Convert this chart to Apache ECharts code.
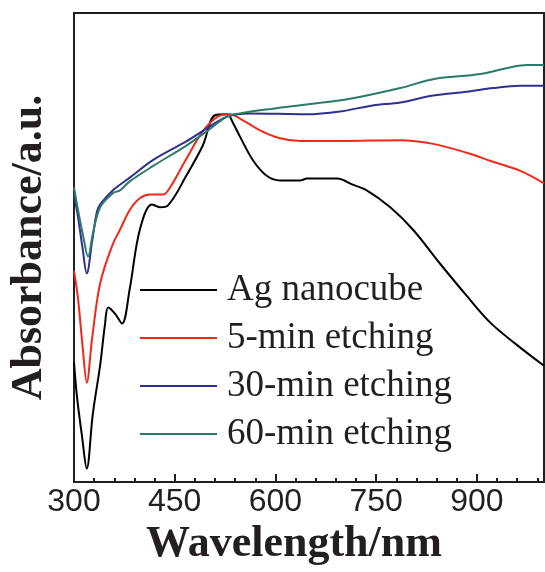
<!DOCTYPE html>
<html>
<head>
<meta charset="utf-8">
<script src="https://cdn.jsdelivr.net/npm/echarts@6/dist/echarts.min.js"></script>
<style>
  html, body { margin: 0; padding: 0; background: #fff; }
  #chart { width: 545px; height: 572px; }
</style>
</head>
<body>
<div id="chart"></div>
<script>
// UV-vis absorbance spectra (arbitrary units, 0–1 scale)
const seriesNames = ['Ag nanocube', '5-min etching', '30-min etching', '60-min etching'];
const seriesColors = ['#000000', '#f2281b', '#2e3192', '#2b7a6c'];

const agWl  = [300, 304.5, 312, 319, 328, 339, 346, 351, 361, 371.5, 383, 398, 416, 428, 440, 468, 492, 510, 528, 537, 547, 567, 587, 607, 637, 647, 692, 715, 736, 771, 805, 845, 885, 920, 960, 1000];
const agAbs = [0.256, 0.181, 0.097, 0.029, 0.145, 0.250, 0.334, 0.372, 0.359, 0.338, 0.412, 0.538, 0.592, 0.586, 0.590, 0.655, 0.718, 0.782, 0.784, 0.765, 0.737, 0.685, 0.653, 0.643, 0.643, 0.647, 0.647, 0.634, 0.622, 0.586, 0.538, 0.466, 0.397, 0.340, 0.292, 0.248];

const e5Wl  = [300, 306, 313, 319, 327, 339, 358, 368.5, 383, 398, 413, 432.5, 443, 468, 492, 514, 532, 547, 577, 607, 637, 696, 786, 835, 885, 924, 964, 1000];
const e5Abs = [0.450, 0.391, 0.286, 0.212, 0.307, 0.424, 0.508, 0.538, 0.580, 0.605, 0.613, 0.613, 0.628, 0.691, 0.748, 0.779, 0.784, 0.775, 0.750, 0.733, 0.727, 0.727, 0.729, 0.721, 0.702, 0.683, 0.664, 0.637];

const e30Wl  = [300, 306, 313, 319, 327, 334, 339, 358, 368.5, 383, 418, 468, 498, 528, 562, 647, 696, 745, 786, 835, 885, 924, 964, 1000];
const e30Abs = [0.613, 0.565, 0.496, 0.445, 0.513, 0.576, 0.592, 0.622, 0.634, 0.649, 0.687, 0.727, 0.754, 0.779, 0.786, 0.784, 0.790, 0.803, 0.809, 0.824, 0.832, 0.840, 0.845, 0.845];

const e60Wl  = [300, 306, 313, 321, 328, 339, 358, 368.5, 383, 418, 468, 498, 528, 547, 596, 647, 711, 786, 835, 905, 949, 975, 1000];
const e60Abs = [0.628, 0.580, 0.529, 0.481, 0.529, 0.586, 0.616, 0.622, 0.641, 0.674, 0.718, 0.748, 0.779, 0.786, 0.796, 0.805, 0.817, 0.840, 0.859, 0.870, 0.884, 0.889, 0.889];

const xTickStep = 150;
const xMinorStep = 30;

function pairs(xs, ys) { return xs.map((x, i) => [x, ys[i]]); }
const seriesData = [pairs(agWl, agAbs), pairs(e5Wl, e5Abs), pairs(e30Wl, e30Abs), pairs(e60Wl, e60Abs)];

const ink = '#231f20';
const serif = '"Liberation Serif", "Times New Roman", serif';
const sans = '"Liberation Sans", Arial, sans-serif';

const chart = echarts.init(document.getElementById('chart'), null, { renderer: 'canvas' });
chart.setOption({
  animation: false,
  backgroundColor: '#fff',
  grid: {
    left: 74, right: 1, top: 13, bottom: 83,
    show: true, borderColor: ink, borderWidth: 2, backgroundColor: 'transparent'
  },
  legend: {
    orient: 'vertical',
    left: 140, top: 271,
    padding: 0,
    icon: 'rect',
    itemWidth: 77, itemHeight: 2,
    itemGap: 10,
    data: seriesNames,
    textStyle: { fontFamily: serif, fontSize: 37, lineHeight: 38, color: ink, padding: [0, 0, 0, 5] }
  },
  xAxis: [{
    type: 'value',
    min: 300, max: 1000, interval: xTickStep,
    name: 'Wavelength/nm',
    nameLocation: 'middle',
    nameGap: 38,
    nameTextStyle: { fontFamily: serif, fontWeight: 'bold', fontSize: 44, color: ink, padding: [0, 30, 0, 0] },
    axisLine: { lineStyle: { color: ink, width: 2 } },
    axisTick: { inside: true, length: 8, lineStyle: { color: ink, width: 2 } },
    axisLabel: { fontFamily: sans, fontSize: 32, color: ink, margin: 4, showMaxLabel: false },
    splitLine: { show: false }
  }, {
    // minor ticks every 30 nm
    type: 'value',
    position: 'bottom',
    min: 300, max: 1000, interval: xMinorStep,
    axisLine: { show: false },
    axisTick: { inside: true, length: 4, lineStyle: { color: ink, width: 2 } },
    axisLabel: { show: false },
    splitLine: { show: false }
  }],
  yAxis: {
    type: 'value',
    min: 0, max: 1,
    name: 'Absorbance/a.u.',
    nameLocation: 'middle',
    nameRotate: 90,
    nameGap: 22,
    nameTextStyle: { fontFamily: serif, fontWeight: 'bold', fontSize: 44, color: ink },
    axisLine: { show: true, lineStyle: { color: ink, width: 2 } },
    axisTick: { show: false },
    axisLabel: { show: false },
    splitLine: { show: false }
  },
  series: seriesNames.map((name, i) => ({
    name,
    type: 'line',
    xAxisIndex: 0,
    data: seriesData[i],
    showSymbol: false,
    smooth: 0.35,
    lineStyle: { color: seriesColors[i], width: 2 },
    itemStyle: { color: seriesColors[i] }
  }))
});
</script>
</body>
</html>
